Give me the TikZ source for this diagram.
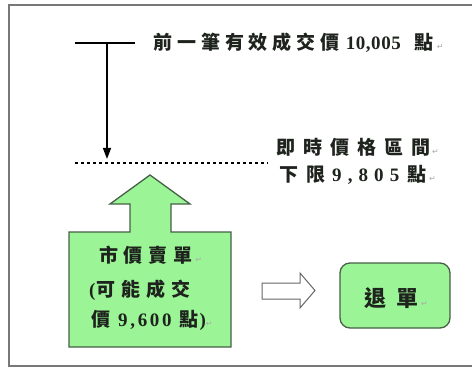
\documentclass[tikz,border=0pt]{standalone}
\usepackage{fontspec}
\usetikzlibrary{arrows.meta}
\newfontfamily\cjk{Noto Sans CJK TC}
\newfontfamily\lat{Liberation Serif}
\newfontfamily\symf{DejaVu Sans}
\newcommand\cjkls[1]{\cjk\bfseries\addfontfeature{LetterSpace=#1}}
\newcommand\latls[1]{\lat\bfseries\addfontfeature{LetterSpace=#1}}
\newcommand\ret{{\symf\fontsize{8}{8}\selectfont\color{retgray}↵}}
\definecolor{retgray}{RGB}{170,170,170}
\definecolor{greenfill}{RGB}{155,245,150}
\definecolor{greenedge}{RGB}{70,95,70}
\definecolor{framegray}{RGB}{120,120,120}
\definecolor{txt}{RGB}{30,35,30}
\begin{document}
\begin{tikzpicture}[x=1pt,y=-1pt,
  lbl/.style={anchor=west,inner sep=0pt,text=txt,font=\fontsize{19}{22}\selectfont},
  greenshape/.style={fill=greenfill,draw=greenedge,line width=1.3pt},
  hollow/.style={fill=white,draw=black!60,line width=1pt}]
\useasboundingbox (0,0) rectangle (472,369);
% frame
\draw[framegray,line width=1.5pt] (472,5) -- (9,5) -- (9,366) -- (472,366);
% T bar and arrow
\coordinate (tl) at (75,43);
\coordinate (tr) at (135,43);
\coordinate (tm) at (107,43);
\coordinate (tip) at (107,159);
\draw[line width=1.8pt] (tl) -- (tr);
\draw[line width=1.5pt,-{Triangle[length=11pt,width=8pt]}] (tm) -- (tip);
% dotted limit line
\coordinate (dl) at (75,163);
\coordinate (dr) at (268,163);
\draw[line width=2.6pt,dash pattern=on 2.6pt off 3.4pt] (dl) -- (dr);
% texts
\node[lbl] (prev) at (153,43) {{\cjkls{26}前一筆有效成交價}\hspace{6pt}{\latls{3}10,005}\hspace{14pt}{\cjkls{0}點}\hspace{3pt}\ret};
\node[lbl] (rng1) at (276,147) {{\cjkls{42}即時價格區間}\hspace{2pt}\ret};
\node[lbl] (rng2) at (279,175) {{\cjkls{42}下限}\hspace{7pt}{\latls{32}9,805}\hspace{8pt}{\cjkls{0}點}\hspace{3pt}\ret};
% green arrow + box
\draw[greenshape] (150,175) -- (190,204) -- (171,204) -- (171,232) -- (231,232)
  -- (231,347) -- (69,347) -- (69,232) -- (130,232) -- (130,204) -- (110,204) -- cycle;
\node[lbl] (m1) at (99,255) {{\cjkls{30}市價賣單}\hspace{3pt}\ret};
\node[lbl] (m2) at (89,290) {{\latls{0}(}\hspace{1pt}{\cjkls{32}可能成交}};
\node[lbl] (m3) at (91,320) {{\cjkls{0}價}\hspace{8pt}{\latls{14}9,600}\hspace{8pt}{\cjkls{0}點}\hspace{1pt}{\latls{0})}\ret};
% hollow arrow
\draw[hollow] (262,283) -- (300,283) -- (300,273) -- (315,290.5) -- (300,308) -- (300,299) -- (262,299) -- cycle;
% reject box
\node[fill=greenfill,draw=greenedge,line width=1.3pt,rounded corners=10pt,minimum width=110pt,minimum height=65pt,inner sep=0pt] (rej) at (395,295.5) {};
\node[lbl,font=\fontsize{22}{25}\selectfont] (rejt) at (364,298) {{\cjkls{45}退單}\hspace{3pt}\ret};
\end{tikzpicture}
\end{document}
